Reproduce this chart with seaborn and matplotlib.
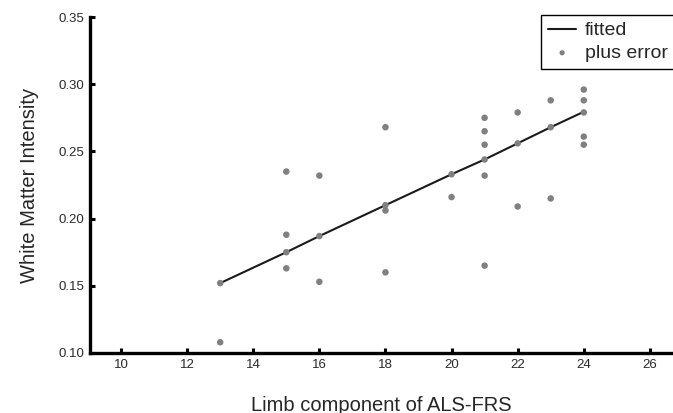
import numpy as np
import pandas as pd
import seaborn as sns
import matplotlib.pyplot as plt

# Data
limb_score = [13, 13,
              15, 15, 15, 15,
              16, 16, 16,
              18, 18, 18, 18,
              20, 20,
              21, 21, 21, 21, 21, 21,
              22, 22, 22,
              23, 23, 23,
              24, 24, 24, 24, 24]
wm_intensity = [0.152, 0.108,
                0.235, 0.188, 0.175, 0.163,
                0.232, 0.187, 0.153,
                0.268, 0.210, 0.206, 0.160,
                0.233, 0.216,
                0.275, 0.265, 0.255, 0.244, 0.232, 0.165,
                0.279, 0.256, 0.209,
                0.288, 0.268, 0.215,
                0.296, 0.288, 0.279, 0.261, 0.255]

fit_x = [13, 15, 16, 18, 20, 21, 22, 23, 24]
fit_y = [0.152, 0.175, 0.187, 0.210, 0.233, 0.244, 0.256, 0.268, 0.2795]

points = pd.DataFrame({"x": limb_score, "y": wm_intensity})
fitted = pd.DataFrame({"x": fit_x, "y": fit_y})

sns.set_style("ticks")
plt.rcParams['font.family'] = ['Liberation Sans', 'DejaVu Sans']

fig = plt.figure(figsize=(6.73, 4.13), dpi=100)
ax = fig.add_axes([0.1337, 0.1453, 0.8663, 0.8135])

sns.lineplot(data=fitted, x="x", y="y", color="#1a1a1a", linewidth=1.5,
             label="fitted", ax=ax)
sns.scatterplot(data=points, x="x", y="y", color="#808080", s=22,
                edgecolor="none", label="plus error", ax=ax, zorder=3)

ax.set_xlim(9.06, 26.7)
ax.set_ylim(0.10, 0.35)
ax.set_xticks([10, 12, 14, 16, 18, 20, 22, 24, 26])
ax.set_yticks([0.10, 0.15, 0.20, 0.25, 0.30, 0.35])
ax.set_yticklabels([f"{v:.2f}" for v in [0.10, 0.15, 0.20, 0.25, 0.30, 0.35]])

sns.despine(ax=ax)
for side in ["left", "bottom"]:
    ax.spines[side].set_linewidth(2.4)
    ax.spines[side].set_color("black")
ax.tick_params(direction="in", length=3.5, width=2.2, labelsize=9.5,
               colors="black", pad=4)
for lab in ax.get_xticklabels() + ax.get_yticklabels():
    lab.set_color("#2a2a2a")

ax.set_xlabel("Limb component of ALS-FRS", fontsize=14.5, labelpad=18)
ax.set_ylabel("White Matter Intensity", fontsize=14.5, labelpad=14)

leg = ax.legend(loc="upper right", bbox_to_anchor=(1.003, 1.006),
                fontsize=14, frameon=True, fancybox=False, framealpha=1,
                edgecolor="black", borderaxespad=0, handlelength=1.45,
                handletextpad=0.45, labelspacing=0.25, borderpad=0.35,
                markerscale=0.8)
leg.get_frame().set_linewidth(1.0)

plt.savefig("out.png", dpi=100)
